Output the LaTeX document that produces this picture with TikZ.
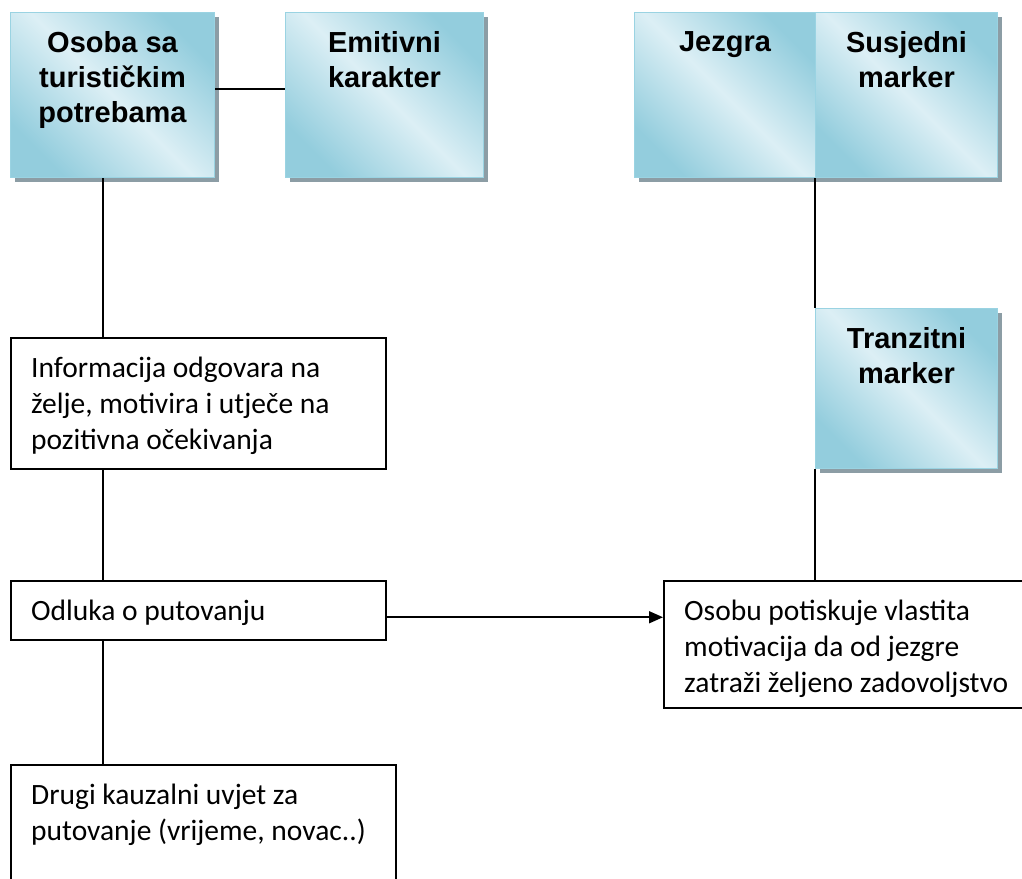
\documentclass[tikz,border=0pt]{standalone}
\usepackage{fontspec}
\setmainfont{Carlito}
\newfontfamily\headfont{Liberation Sans}
\usetikzlibrary{shadows,arrows.meta}
\definecolor{boxdark}{HTML}{93CDDD}
\definecolor{boxlight}{HTML}{DCEFF5}
\definecolor{boxedge}{HTML}{9AD3E2}
\definecolor{boxshadow}{HTML}{8C9DA5}
\tikzset{
  bluebox/.style={rectangle,draw=boxedge,line width=1pt,anchor=north west,inner sep=0pt,
    top color=boxdark,bottom color=boxdark,middle color=boxlight,shading angle=-45,
    drop shadow={shadow xshift=4pt,shadow yshift=-4pt,fill=boxshadow,opacity=1}},
  headtext/.style={anchor=north,inner sep=0pt,yshift=-19pt,align=center,
    font=\headfont\bfseries\fontsize{29}{35}\selectfont},
  textbox/.style={rectangle,draw=black,line width=1.5pt,anchor=north west,inner sep=0pt},
  bodytext/.style={anchor=north west,inner sep=0pt,xshift=21pt,yshift=-20pt,align=left,
    font=\fontsize{29.5}{36}\selectfont},
  link/.style={line width=1.6pt,draw=black},
  arrow/.style={link,-{Triangle[length=14pt,width=12pt]}}
}
\begin{document}
\begin{tikzpicture}[x=1pt,y=-1pt]
\useasboundingbox (0,0) rectangle (1022,878);
% blue boxes
\node[bluebox,minimum width=204pt,minimum height=165pt,label={[headtext]north:{Osoba sa\\turističkim\\potrebama}}] (osoba) at (10,12) {};
\node[bluebox,minimum width=198pt,minimum height=165pt,label={[headtext]north:{Emitivni\\karakter}}] (emit) at (285,12) {};
\node[bluebox,minimum width=181pt,minimum height=165pt,label={[headtext]north:{Jezgra}}] (jezgra) at (634,12) {};
\node[bluebox,minimum width=182pt,minimum height=165pt,label={[headtext]north:{Susjedni\\marker}}] (susjedni) at (815,12) {};
\node[bluebox,minimum width=182pt,minimum height=160pt,label={[headtext]north:{Tranzitni\\marker}}] (tranz) at (815,308) {};

% white boxes
\node[textbox,minimum width=375pt,minimum height=131pt,label={[bodytext]north west:{Informacija odgovara na\\želje, motivira i utječe na\\pozitivna očekivanja}}] (info) at (10,337) {};
\node[textbox,minimum width=375pt,minimum height=59pt,label={[bodytext]north west:{Odluka o putovanju}}] (odluka) at (10,580) {};
\node[textbox,minimum width=385pt,minimum height=130pt,label={[bodytext]north west:{Drugi kauzalni uvjet za\\putovanje (vrijeme, novac..)}}] (drugi) at (10,764) {};
\node[textbox,minimum width=370pt,minimum height=127pt,label={[bodytext]north west:{Osobu potiskuje vlastita\\motivacija da od jezgre\\zatraži željeno zadovoljstvo}}] (osobu) at (663,580) {};

% connectors
\coordinate (spine) at (103,0);
\coordinate (rspine) at (815,0);
\draw[link] ([yshift=6pt]osoba.east) -- ([yshift=6pt]emit.west);
\draw[link] (osoba.south -| spine) -- (info.north -| spine);
\draw[link] (info.south -| spine) -- (odluka.north -| spine);
\draw[link] (odluka.south -| spine) -- (drugi.north -| spine);
\draw[link] (jezgra.south -| rspine) -- (tranz.north -| rspine);
\draw[link] (tranz.south -| rspine) -- (osobu.north -| rspine);
\draw[arrow] ([yshift=-7pt]odluka.east) -- ([yshift=-7pt]odluka.east -| osobu.west);
\end{tikzpicture}
\end{document}
